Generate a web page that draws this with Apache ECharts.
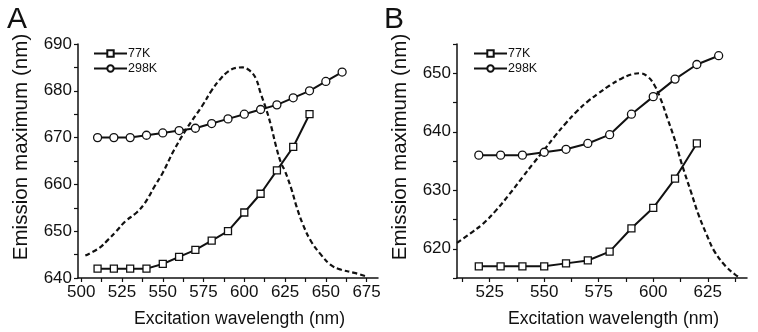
<!DOCTYPE html>
<html>
<head>
<meta charset="utf-8">
<script src="https://cdn.jsdelivr.net/npm/echarts@6/dist/echarts.min.js"></script>
<style>
  html, body { margin: 0; padding: 0; background: #fff; }
  #chart { width: 758px; height: 332px; }
</style>
</head>
<body>
<div id="chart"></div>
<script>
// panel A
var wlA77 = [510, 520, 530, 540, 550, 560, 570, 580, 590, 600, 610, 620, 630, 640];
var emA77 = [642, 642, 642, 642, 643, 644.5, 646, 648, 650, 654, 658, 663, 668, 675];
var wlA298 = [510, 520, 530, 540, 550, 560, 570, 580, 590, 600, 610, 620, 630, 640, 650, 660];
var emA298 = [670, 670, 670, 670.5, 671, 671.5, 672, 673, 674, 675, 676, 677, 678.5, 680, 682, 684];
var specAx = [502.5, 511, 516.5, 521.5, 527, 534, 539, 545, 550, 557, 565, 574, 580, 585, 590, 595, 599, 603, 607, 610, 613.5, 616.5, 619.5, 622.5, 625, 629, 632, 636, 641, 647, 653, 659, 667.5, 675];
var specAy = [644.8, 646.4, 648.2, 650, 652.1, 654, 656, 659.6, 662.5, 667.4, 672.1, 676.7, 680.1, 682.4, 684.1, 684.9, 685, 684.4, 682.7, 679.5, 676, 672.4, 668.1, 664.6, 662.8, 658.9, 655.3, 651.4, 647.8, 645, 642.8, 641.8, 641.1, 640.3];
var ticksAx = [500, 512.5, 525, 537.5, 550, 562.5, 575, 587.5, 600, 612.5, 625, 637.5, 650, 662.5, 675];
var labelsAx = [500, 525, 550, 575, 600, 625, 650, 675];
var ticksAy = [640, 645, 650, 655, 660, 665, 670, 675, 680, 685, 690];
var labelsAy = [640, 650, 660, 670, 680, 690];

// panel B
var wlB77 = [520, 530, 540, 550, 560, 570, 580, 590, 600, 610, 620];
var emB77 = [617, 617, 617, 617, 617.5, 618, 619.5, 623.5, 627, 632, 638];
var wlB298 = [520, 530, 540, 550, 560, 570, 580, 590, 600, 610, 620, 630];
var emB298 = [636, 636, 636, 636.5, 637, 638, 639.5, 643, 646, 649, 651.5, 653];
var specBx = [510, 516, 522, 528, 534, 540, 545, 550, 555, 560, 565, 570, 575, 580, 585, 590, 594, 597.5, 600.5, 603.5, 606.5, 610, 613, 617.5, 620.5, 624.5, 628, 633, 637.5, 640];
var specBy = [621, 622.6, 624.3, 626.6, 629.3, 632.2, 634.6, 636.9, 639.3, 641.5, 643.5, 645.2, 646.6, 647.9, 649, 649.8, 650, 649.4, 648, 645.5, 642.3, 638.5, 634.6, 629.5, 626.1, 622.4, 619.6, 617.1, 615.6, 615];
var ticksBx = [512.5, 525, 537.5, 550, 562.5, 575, 587.5, 600, 612.5, 625, 637.5];
var labelsBx = [525, 550, 575, 600, 625];
var ticksBy = [615, 620, 625, 630, 635, 640, 645, 650, 655];
var labelsBy = [620, 630, 640, 650];

var FONT = 'Liberation Sans, Arial, Helvetica, sans-serif';
var INK = '#111';

function zip(xs, ys) {
    return xs.map(function (x, i) { return [x, ys[i]]; });
}

function xAxisOf(idx, min, max, ticks, labels) {
    return {
        type: 'value', gridIndex: idx, min: min, max: max,
        name: 'Excitation wavelength (nm)',
        nameLocation: 'middle', nameGap: 32,
        nameTextStyle: { fontFamily: FONT, fontSize: 17.6, color: INK, padding: [0, 0, 0, 23] },
        axisLine: { onZero: false, lineStyle: { color: INK, width: 1.5 } },
        axisTick: { show: true, inside: false, length: 4, customValues: ticks, lineStyle: { color: INK, width: 1.2 } },
        axisLabel: { customValues: labels, margin: 6, fontFamily: FONT, fontSize: 17, color: INK },
        splitLine: { show: false }
    };
}

function yAxisOf(idx, min, max, ticks, labels) {
    return {
        type: 'value', gridIndex: idx, min: min, max: max,
        name: 'Emission maximum (nm)',
        nameLocation: 'middle', nameGap: 46, nameRotate: 90,
        nameTextStyle: { fontFamily: FONT, fontSize: 20.6, color: INK, padding: [0, 0, 0, 28] },
        axisLine: { show: true, onZero: false, lineStyle: { color: INK, width: 1.5 } },
        axisTick: { show: true, inside: false, length: 4, customValues: ticks, lineStyle: { color: INK, width: 1.2 } },
        axisLabel: { customValues: labels, margin: 6, fontFamily: FONT, fontSize: 17, color: INK },
        splitLine: { show: false }
    };
}

function dataSeries(name, idx, xs, ys, symbol, size) {
    return {
        name: name, type: 'line',
        xAxisIndex: idx, yAxisIndex: idx,
        data: zip(xs, ys),
        symbol: symbol, symbolSize: size, showSymbol: true,
        lineStyle: { color: INK, width: 2 },
        itemStyle: { color: '#fff', borderColor: INK, borderWidth: 1.3 },
        z: 3, animation: false
    };
}

function specSeries(idx, xs, ys) {
    return {
        name: 'spectrum', type: 'line',
        xAxisIndex: idx, yAxisIndex: idx,
        data: zip(xs, ys),
        showSymbol: false, smooth: 0.4,
        lineStyle: { color: INK, width: 2.2, type: [5, 3] },
        z: 2, animation: false
    };
}

function legendOf(left) {
    return {
        data: ['77K', '298K'],
        orient: 'vertical', left: left, top: 42,
        itemWidth: 33, itemHeight: 8, itemGap: 2,
        textStyle: { fontFamily: FONT, fontSize: 12.5, color: INK, padding: [0, 0, 0, -4] },
        selectedMode: false
    };
}

var chart = echarts.init(document.getElementById('chart'));
var option = {
    backgroundColor: '#fff',
    animation: false,
    title: [
        { text: 'A', left: 2, top: 0, textStyle: { fontFamily: FONT, fontSize: 30, fontWeight: 'normal', color: INK } },
        { text: 'B', left: 379, top: 0, textStyle: { fontFamily: FONT, fontSize: 30, fontWeight: 'normal', color: INK } }
    ],
    legend: [legendOf(88), legendOf(468)],
    grid: [
        { left: 78, top: 44, width: 300, height: 234, outerBoundsMode: 'none' },
        { left: 457, top: 44, width: 290, height: 234, outerBoundsMode: 'none' }
    ],
    xAxis: [
        xAxisOf(0, 498, 682, ticksAx, labelsAx),
        xAxisOf(1, 510, 643, ticksBx, labelsBx)
    ],
    yAxis: [
        yAxisOf(0, 640, 690, ticksAy, labelsAy),
        yAxisOf(1, 615, 655, ticksBy, labelsBy)
    ],
    series: [
        specSeries(0, specAx, specAy),
        dataSeries('77K', 0, wlA77, emA77, 'rect', 7),
        dataSeries('298K', 0, wlA298, emA298, 'circle', 8),
        specSeries(1, specBx, specBy),
        dataSeries('77K', 1, wlB77, emB77, 'rect', 7),
        dataSeries('298K', 1, wlB298, emB298, 'circle', 8)
    ]
};
chart.setOption(option);
</script>
</body>
</html>
